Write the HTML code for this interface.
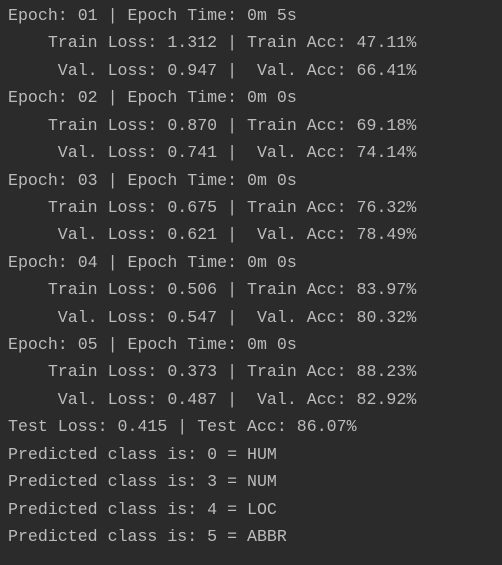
<!DOCTYPE html>
<html><head><meta charset="utf-8"><style>
html,body{margin:0;padding:0;background:#2b2b2b;width:502px;height:565px;overflow:hidden}
pre{margin:0;position:absolute;left:8px;top:2px;font-family:"Liberation Mono",monospace;font-size:16.6px;line-height:27.42px;color:#bbbbbb}
</style></head><body>
<pre>Epoch: 01 | Epoch Time: 0m 5s
    Train Loss: 1.312 | Train Acc: 47.11%
     Val. Loss: 0.947 |  Val. Acc: 66.41%
Epoch: 02 | Epoch Time: 0m 0s
    Train Loss: 0.870 | Train Acc: 69.18%
     Val. Loss: 0.741 |  Val. Acc: 74.14%
Epoch: 03 | Epoch Time: 0m 0s
    Train Loss: 0.675 | Train Acc: 76.32%
     Val. Loss: 0.621 |  Val. Acc: 78.49%
Epoch: 04 | Epoch Time: 0m 0s
    Train Loss: 0.506 | Train Acc: 83.97%
     Val. Loss: 0.547 |  Val. Acc: 80.32%
Epoch: 05 | Epoch Time: 0m 0s
    Train Loss: 0.373 | Train Acc: 88.23%
     Val. Loss: 0.487 |  Val. Acc: 82.92%
Test Loss: 0.415 | Test Acc: 86.07%
Predicted class is: 0 = HUM
Predicted class is: 3 = NUM
Predicted class is: 4 = LOC
Predicted class is: 5 = ABBR</pre>
</body></html>
